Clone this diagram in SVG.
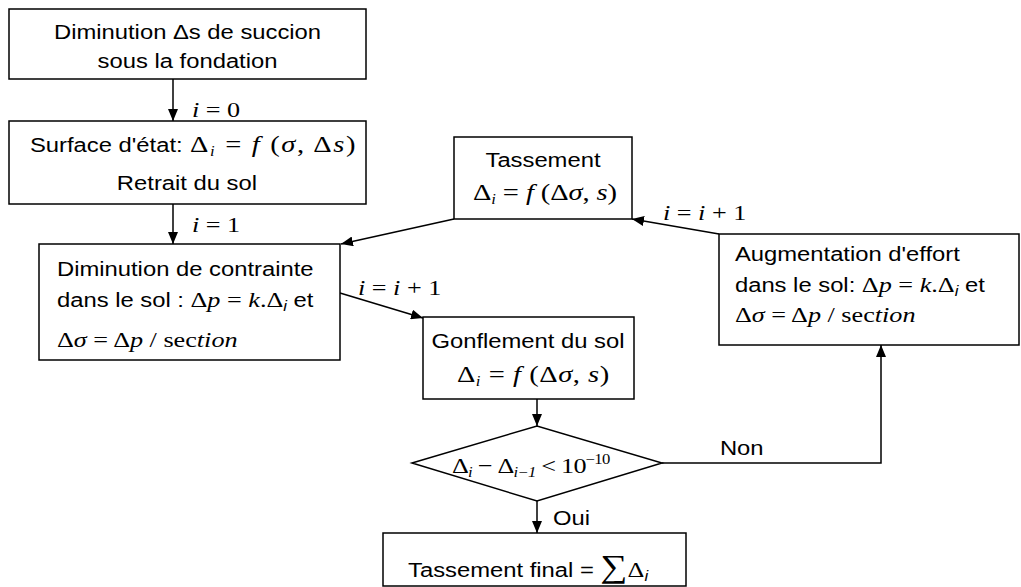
<svg xmlns="http://www.w3.org/2000/svg" width="1021" height="587" viewBox="0 0 1021 587">
<style>
.box{fill:#fff;stroke:#000;stroke-width:1.5}
.c{fill:none;stroke:#000;stroke-width:1.5}
.t{font-family:"Liberation Sans",Arial,sans-serif;font-size:20px;fill:#000}
.m{font-family:"Liberation Serif","Times New Roman",serif;font-size:22px}
.L{font-size:24px}
.i{font-style:italic}
.s{font-size:14px;font-style:italic}
</style>
<defs>
<marker id="ah" viewBox="0 0 12 10" refX="12" refY="5" markerWidth="12" markerHeight="10" markerUnits="userSpaceOnUse" orient="auto">
<path d="M0,0 L12,5 L0,10 z" fill="#000"/>
</marker>
</defs>
<rect width="1021" height="587" fill="#fff"/>
<g id="connectors">
<line class="c" x1="173" y1="79" x2="173" y2="121" marker-end="url(#ah)"/>
<line class="c" x1="173" y1="204" x2="173" y2="244" marker-end="url(#ah)"/>
<line class="c" x1="454" y1="219" x2="341" y2="244" marker-end="url(#ah)"/>
<line class="c" x1="340" y1="293" x2="423" y2="318" marker-end="url(#ah)"/>
<line class="c" x1="537" y1="399" x2="537" y2="426" marker-end="url(#ah)"/>
<line class="c" x1="537" y1="501" x2="537" y2="533" marker-end="url(#ah)"/>
<path class="c" d="M662,463 H881 V345" marker-end="url(#ah)"/>
<line class="c" x1="719" y1="234" x2="632" y2="219" marker-end="url(#ah)"/>
</g>
<g id="n1"><rect class="box" x="9" y="9" width="357" height="70"/></g>
<g id="n2"><rect class="box" x="9" y="121" width="357" height="83"/></g>
<g id="n3"><rect class="box" x="39" y="244" width="301" height="116"/></g>
<g id="n4"><rect class="box" x="454" y="137" width="178" height="82"/></g>
<g id="n5"><rect class="box" x="719" y="234" width="300" height="111"/></g>
<g id="n6"><rect class="box" x="423" y="317" width="211" height="82"/></g>
<g id="n7"><polygon class="box" points="412,463 537,426 662,463 537,501"/></g>
<g id="n8"><rect class="box" x="383" y="533" width="303" height="53"/></g>
<g id="labels" transform="scale(1.19,1)">
<text class="t" x="157.6" y="39" text-anchor="middle">Diminution Δs de succion</text>
<text class="t" x="157.6" y="68" text-anchor="middle">sous la fondation</text>
<text class="t" x="25.2" y="152">Surface d'état:</text>
<text class="m L" x="159.7" y="152" textLength="139" lengthAdjust="spacing">Δ<tspan class="s" dy="4">i</tspan><tspan dy="-4"> = </tspan><tspan class="i">f</tspan> (<tspan class="i">σ</tspan>, Δ<tspan class="i">s</tspan>)</text>
<text class="t" x="157.1" y="190" text-anchor="middle">Retrait du sol</text>
<text class="t" x="47.9" y="276">Diminution de contrainte</text>
<text class="t" x="47.9" y="307">dans le sol : <tspan class="m">Δ</tspan><tspan class="m i">p</tspan><tspan class="m"> = </tspan><tspan class="m i">k</tspan><tspan class="m">.Δ</tspan><tspan class="s" dy="4">i</tspan><tspan dy="-4"> et</tspan></text>
<text class="m" x="47.9" y="347">Δ<tspan class="i">σ</tspan> = Δ<tspan class="i">p</tspan> / sec<tspan class="i">tion</tspan></text>
<text class="t" x="456.3" y="167" text-anchor="middle">Tassement</text>
<text class="m L" x="397.5" y="200" textLength="121" lengthAdjust="spacing">Δ<tspan class="s" dy="4">i</tspan><tspan dy="-4"> = </tspan><tspan class="i">f</tspan> (Δ<tspan class="i">σ</tspan>, <tspan class="i">s</tspan>)</text>
<text class="t" x="617.6" y="261">Augmentation d'effort</text>
<text class="t" x="617.6" y="292">dans le sol: <tspan class="m">Δ</tspan><tspan class="m i">p</tspan><tspan class="m"> = </tspan><tspan class="m i">k</tspan><tspan class="m">.Δ</tspan><tspan class="s" dy="4">i</tspan><tspan dy="-4">  et</tspan></text>
<text class="m" x="617.6" y="322">Δ<tspan class="i">σ</tspan> = Δ<tspan class="i">p</tspan> / sec<tspan class="i">tion</tspan></text>
<text class="t" x="443.7" y="348" text-anchor="middle">Gonflement du sol</text>
<text class="m L" x="384" y="382" textLength="128" lengthAdjust="spacing">Δ<tspan class="s" dy="4">i</tspan><tspan dy="-4"> = </tspan><tspan class="i">f</tspan> (Δ<tspan class="i">σ</tspan>, <tspan class="i">s</tspan>)</text>
<text class="m" x="379.8" y="473" textLength="133" lengthAdjust="spacing">Δ<tspan class="s" dy="4">i</tspan><tspan dy="-4"> − Δ</tspan><tspan class="s" dy="4">i−1</tspan><tspan dy="-4"> &lt; 10</tspan><tspan style="font-size:14px" dy="-9">−10</tspan></text>
<text class="t" x="342.9" y="577">Tassement final = <tspan class="m" style="font-size:32px">∑</tspan><tspan class="m">Δ</tspan><tspan class="s" dy="4">i</tspan></text>
<text class="m" x="161.3" y="117"><tspan class="i">i</tspan> = 0</text>
<text class="m" x="161.3" y="232"><tspan class="i">i</tspan> = 1</text>
<text class="m" x="300.8" y="295"><tspan class="i">i</tspan> = <tspan class="i">i</tspan> + 1</text>
<text class="m" x="557.1" y="220"><tspan class="i">i</tspan> = <tspan class="i">i</tspan> + 1</text>
<text class="t" x="605" y="455">Non</text>
<text class="t" x="464.7" y="525">Oui</text>
</g>
</svg>
